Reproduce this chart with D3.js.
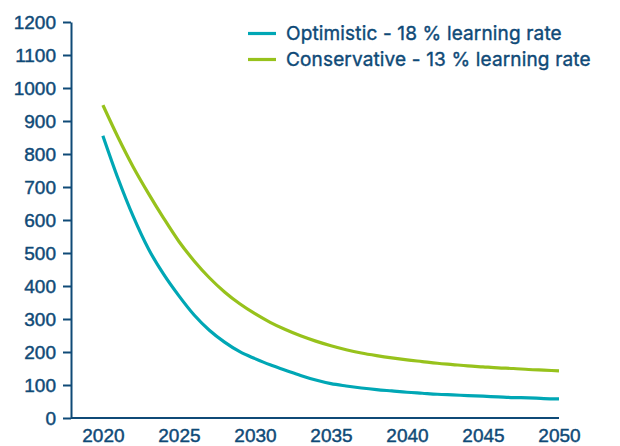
<!DOCTYPE html>
<html>
<head>
<meta charset="utf-8">
<script src="https://cdn.jsdelivr.net/npm/d3@7"></script>
<style>
	body { margin: 0; background: #fff; }
	svg { font-family: Inter, "Open Sans", sans-serif; }
	.axis text { fill: #0f4a77; font-size: 19px; stroke: #0f4a77; stroke-width: 0.45px; }
	.axis path, .axis line { stroke: #0f4a77; stroke-width: 2px; }
	.legend text { fill: #0f4a77; font-size: 19px; letter-spacing: 0.15px; stroke: #0f4a77; stroke-width: 0.4px; }
</style>
</head>
<body>
<div class="chart"></div>
<script>

	var years = d3.range(2020, 2051);

	var optimistic = [855, 725, 610, 512, 435, 370, 312, 266, 230, 201,
		180, 161, 145, 129, 115, 104, 97, 91, 86, 82,
		78, 75, 72, 70, 68, 66, 64, 62, 61, 59, 58];

	var conservative = [948, 850, 760, 680, 605, 535, 476, 425, 382, 346,
		316, 290, 268, 249, 233, 219, 207, 197, 189, 182,
		176, 171, 166, 162, 158, 155, 152, 150, 147, 145, 143];

	var seriesNames = ["Optimistic - 18 % learning rate", "Conservative - 13 % learning rate"];
	var seriesColors = ["#00a7b5", "#97c21c"];

	var yTicks = d3.range(0, 1201, 100);
	var xTicks = [2020, 2025, 2030, 2035, 2040, 2045, 2050];

	var margin = {
			top: 22,
			right: 61,
			bottom: 28,
			left: 71
		},
		width = 620 - margin.left - margin.right,
		height = 446 - margin.top - margin.bottom;

	var svg = d3.select(".chart").append("svg")
		.attr("width", 620)
		.attr("height", 446)
		.append("g")
		.attr("transform", "translate(" + margin.left + "," + margin.top + ")");

	var x = d3.scaleLinear().domain([2017.9, 2050]).range([0, width]),
		y = d3.scaleLinear().domain([0, 1200]).range([height, 0]);

	var xAxis = d3.axisBottom(x)
		.tickValues(xTicks)
		.tickFormat(d3.format("d"))
		.tickSize(0)
		.tickPadding(11);

	var yAxis = d3.axisLeft(y)
		.tickValues(yTicks)
		.tickFormat(d3.format("d"))
		.tickSizeInner(8)
		.tickSizeOuter(0)
		.tickPadding(7);

	svg.append("g")
		.classed("y axis", true)
		.call(yAxis);

	svg.append("g")
		.classed("x axis", true)
		.attr("transform", "translate(0," + height + ")")
		.call(xAxis)
		.select(".domain")
		.attr("d", "M0,0H" + width);

	// smooth decline curves
	var line = d3.line()
		.curve(d3.curveMonotoneX)
		.x(function (d, i) { return x(years[i]); })
		.y(function (d) { return y(d); });

	[optimistic, conservative].forEach(function (values, i) {
		svg.append("path")
			.datum(values)
			.attr("fill", "none")
			.attr("stroke", seriesColors[i])
			.attr("stroke-width", 3.2)
			.attr("stroke-linejoin", "round")
			.attr("d", line);
	});

	var legend = svg.selectAll(".legend")
		.data(seriesNames)
		.enter().append("g")
		.classed("legend", true)
		.attr("transform", function (d, i) {
			return "translate(" + (248 - margin.left) + "," + (33.5 - margin.top + i * 26) + ")";
		});

	legend.append("line")
		.attr("x1", 0)
		.attr("x2", 28)
		.attr("stroke", function (d, i) { return seriesColors[i]; })
		.attr("stroke-width", 3.2);

	legend.append("text")
		.attr("x", 38)
		.attr("dy", "0.35em")
		.text(function (d) { return d; });

</script>
</body>
</html>
